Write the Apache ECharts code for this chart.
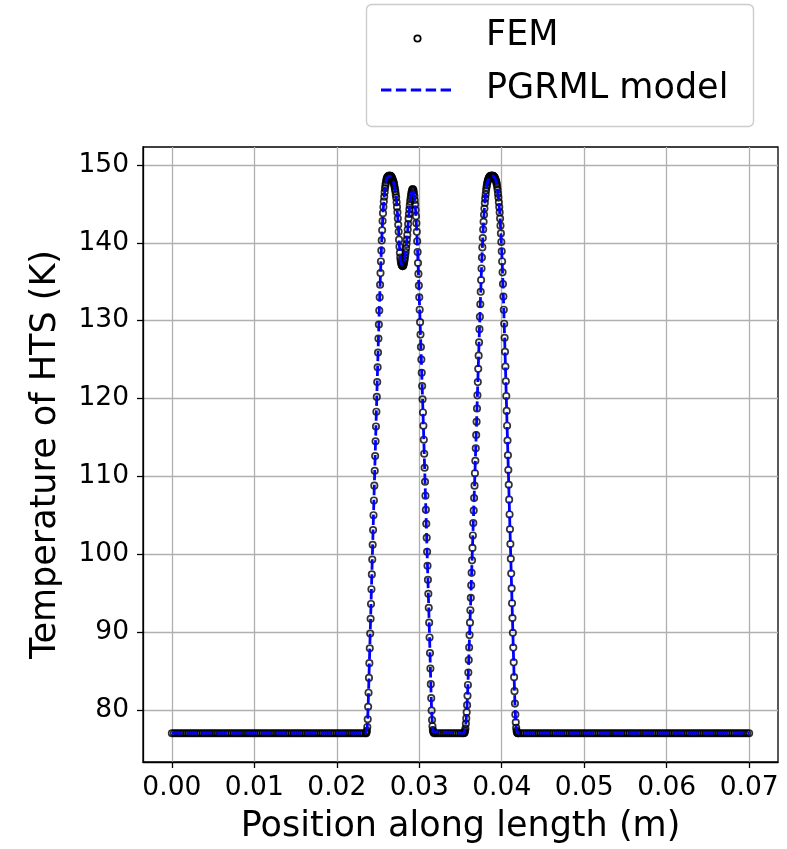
<!DOCTYPE html>
<html><head><meta charset="utf-8">
<script src="https://cdn.jsdelivr.net/npm/echarts@6/dist/echarts.min.js"></script>
<style>html,body{margin:0;padding:0;background:#fff}#chart{width:787px;height:849px}</style>
</head><body><div id="chart"></div>
<script>
// ---- tick values ----
const xTicks = [0, 0.01, 0.02, 0.03, 0.04, 0.05, 0.06, 0.07];
const yTicks = [80, 90, 100, 110, 120, 130, 140, 150];

// ---- FEM results [position (m), temperature (K)] ----
const femLeftTail = [[0,77],[0.00025,77],[0.0005,77],[0.00075,77],[0.001,77],[0.00125,77],[0.0015,77],[0.00175,77],[0.002,77],[0.00225,77],[0.0025,77],[0.00275,77],[0.003,77],[0.00325,77],[0.0035,77],[0.00375,77],[0.004,77],[0.00425,77],[0.0045,77],[0.00475,77],[0.005,77],[0.00525,77],[0.0055,77],[0.00575,77],[0.006,77],[0.00625,77],[0.0065,77],[0.00675,77],[0.007,77],[0.00725,77],[0.0075,77],[0.00775,77],[0.008,77],[0.00825,77],[0.0085,77],[0.00875,77],[0.009,77],[0.00925,77],[0.0095,77],[0.00975,77],[0.01,77],[0.01025,77],[0.0105,77],[0.01075,77],[0.011,77],[0.01125,77],[0.0115,77],[0.01175,77],[0.012,77],[0.01225,77],[0.0125,77],[0.01275,77],[0.013,77],[0.01325,77],[0.0135,77],[0.01375,77],[0.014,77],[0.01425,77],[0.0145,77],[0.01475,77],[0.015,77],[0.01525,77],[0.0155,77],[0.01575,77],[0.016,77],[0.01625,77],[0.0165,77],[0.01675,77],[0.017,77],[0.01725,77],[0.0175,77],[0.01775,77],[0.018,77],[0.01825,77],[0.0185,77],[0.01875,77],[0.019,77],[0.01925,77],[0.0195,77],[0.01975,77],[0.02,77],[0.02025,77],[0.0205,77],[0.02075,77],[0.021,77],[0.02125,77],[0.0215,77],[0.02175,77],[0.022,77],[0.02225,77],[0.0225,77],[0.02275,77],[0.023,77],[0.02325,77]];

const femDoublePeak = [[0.0235,77.0],[0.02355,77.0],[0.0236,77.1],[0.02365,77.3],[0.0237,77.8],[0.02375,78.8],[0.0238,80.4],[0.02385,82.2],[0.0239,84.1],[0.02395,86.0],[0.024,87.9],[0.02405,89.8],[0.0241,91.7],[0.02415,93.6],[0.0242,95.5],[0.02425,97.4],[0.0243,99.3],[0.02435,101.2],[0.0244,103.1],[0.02445,105.0],[0.0245,106.9],[0.02455,108.8],[0.0246,110.7],[0.02465,112.6],[0.0247,114.5],[0.02475,116.4],[0.0248,118.3],[0.02485,120.2],[0.0249,122.1],[0.02495,124.0],[0.025,125.9],[0.02505,127.7],[0.0251,129.5],[0.02515,131.3],[0.0252,133.0],[0.02525,134.6],[0.0253,136.1],[0.02535,137.6],[0.0254,139.0],[0.02545,140.3],[0.0255,141.6],[0.02555,142.8],[0.0256,143.8],[0.02565,144.6],[0.0257,145.3],[0.02575,145.9],[0.0258,146.5],[0.02585,147.0],[0.0259,147.4],[0.02595,147.7],[0.026,148.0],[0.02605,148.2],[0.0261,148.35],[0.02615,148.45],[0.0262,148.5],[0.02625,148.55],[0.0263,148.6],[0.02635,148.6],[0.0264,148.6],[0.02645,148.6],[0.0265,148.6],[0.02655,148.55],[0.0266,148.5],[0.02665,148.4],[0.0267,148.3],[0.02675,148.15],[0.0268,148.0],[0.02685,147.9],[0.0269,147.7],[0.02695,147.5],[0.027,147.2],[0.02705,146.9],[0.0271,146.6],[0.02715,146.2],[0.0272,145.8],[0.02725,145.2],[0.0273,144.6],[0.02735,143.9],[0.0274,143.1],[0.02745,142.3],[0.0275,141.4],[0.02755,140.4],[0.0276,139.5],[0.02765,138.7],[0.0277,138.1],[0.02775,137.7],[0.0278,137.4],[0.02785,137.2],[0.0279,137.1],[0.02795,137.0],[0.028,137.0],[0.02805,137.05],[0.0281,137.2],[0.02815,137.4],[0.0282,137.7],[0.02825,138.0],[0.0283,138.4],[0.02835,138.8],[0.0284,139.3],[0.02845,139.8],[0.0285,140.4],[0.02855,141.0],[0.0286,141.7],[0.02865,142.4],[0.0287,143.1],[0.02875,143.7],[0.0288,144.3],[0.02885,144.8],[0.0289,145.3],[0.02895,145.7],[0.029,146.1],[0.02905,146.4],[0.0291,146.6],[0.02915,146.8],[0.0292,146.9],[0.02925,146.85],[0.0293,146.7],[0.02935,146.4],[0.0294,146.0],[0.02945,145.5],[0.0295,144.9],[0.02955,144.2],[0.0296,143.4],[0.02965,142.5],[0.0297,141.4],[0.02975,140.2],[0.0298,138.8],[0.02985,137.4],[0.0299,136.0],[0.02995,134.5],[0.03,133.0],[0.03005,131.4],[0.0301,129.8],[0.03015,128.2],[0.0302,126.6],[0.03025,125.0],[0.0303,123.3],[0.03035,121.6],[0.0304,119.9],[0.03045,118.2],[0.0305,116.5],[0.03055,114.7],[0.0306,112.9],[0.03065,111.1],[0.0307,109.3],[0.03075,107.5],[0.0308,105.7],[0.03085,103.9],[0.0309,102.1],[0.03095,100.3],[0.031,98.5],[0.03105,96.7],[0.0311,94.9],[0.03115,93.1],[0.0312,91.2],[0.03125,89.3],[0.0313,87.3],[0.03135,85.3],[0.0314,83.3],[0.03145,81.5],[0.0315,79.9],[0.03155,78.7],[0.0316,77.9],[0.03165,77.4],[0.0317,77.2],[0.03175,77.1],[0.0318,77.0]];

const femGap = [[0.032,77],[0.03225,77],[0.0325,77],[0.03275,77],[0.033,77],[0.03325,77],[0.0335,77],[0.03375,77],[0.034,77],[0.03425,77],[0.0345,77],[0.03475,77],[0.035,77],[0.03525,77]];

const femSinglePeak = [[0.0354,77.0],[0.03545,77.05],[0.0355,77.1],[0.03555,77.3],[0.0356,77.6],[0.03565,78.2],[0.0357,78.9],[0.03575,79.7],[0.0358,80.6],[0.03585,81.8],[0.0359,83.2],[0.03595,84.8],[0.036,86.4],[0.03605,88.0],[0.0361,89.6],[0.03615,91.2],[0.0362,92.8],[0.03625,94.4],[0.0363,96.0],[0.03635,97.6],[0.0364,99.2],[0.03645,100.8],[0.0365,102.4],[0.03655,104.0],[0.0366,105.6],[0.03665,107.2],[0.0367,108.8],[0.03675,110.4],[0.0368,112.0],[0.03685,113.6],[0.0369,115.3],[0.03695,117.0],[0.037,118.7],[0.03705,120.4],[0.0371,122.1],[0.03715,123.8],[0.0372,125.5],[0.03725,127.2],[0.0373,128.9],[0.03735,130.5],[0.0374,132.1],[0.03745,133.7],[0.0375,135.2],[0.03755,136.7],[0.0376,138.1],[0.03765,139.4],[0.0377,140.6],[0.03775,141.7],[0.0378,142.7],[0.03785,143.6],[0.0379,144.4],[0.03795,145.1],[0.038,145.7],[0.03805,146.2],[0.0381,146.7],[0.03815,147.1],[0.0382,147.4],[0.03825,147.7],[0.0383,147.9],[0.03835,148.1],[0.0384,148.2],[0.03845,148.35],[0.0385,148.45],[0.03855,148.5],[0.0386,148.55],[0.03865,148.6],[0.0387,148.6],[0.03875,148.6],[0.0388,148.6],[0.03885,148.6],[0.0389,148.6],[0.03895,148.6],[0.039,148.55],[0.03905,148.5],[0.0391,148.45],[0.03915,148.35],[0.0392,148.25],[0.03925,148.1],[0.0393,147.95],[0.03935,147.75],[0.0394,147.5],[0.03945,147.2],[0.0395,146.8],[0.03955,146.3],[0.0396,145.8],[0.03965,145.2],[0.0397,144.6],[0.03975,143.9],[0.0398,143.1],[0.03985,142.2],[0.0399,141.2],[0.03995,140.1],[0.04,138.9],[0.04005,137.6],[0.0401,136.2],[0.04015,134.7],[0.0402,133.1],[0.04025,131.4],[0.0403,129.6],[0.04035,127.8],[0.0404,126.0],[0.04045,124.1],[0.0405,122.2],[0.04055,120.3],[0.0406,118.4],[0.04065,116.5],[0.0407,114.6],[0.04075,112.7],[0.0408,110.8],[0.04085,108.9],[0.0409,107.0],[0.04095,105.1],[0.041,103.2],[0.04105,101.3],[0.0411,99.4],[0.04115,97.5],[0.0412,95.6],[0.04125,93.7],[0.0413,91.8],[0.04135,89.9],[0.0414,88.0],[0.04145,86.1],[0.0415,84.2],[0.04155,82.4],[0.0416,80.8],[0.04165,79.4],[0.0417,78.4],[0.04175,77.7],[0.0418,77.3],[0.04185,77.1],[0.0419,77.05],[0.04195,77.0]];

const femRightTail = [[0.042,77],[0.04225,77],[0.0425,77],[0.04275,77],[0.043,77],[0.04325,77],[0.0435,77],[0.04375,77],[0.044,77],[0.04425,77],[0.0445,77],[0.04475,77],[0.045,77],[0.04525,77],[0.0455,77],[0.04575,77],[0.046,77],[0.04625,77],[0.0465,77],[0.04675,77],[0.047,77],[0.04725,77],[0.0475,77],[0.04775,77],[0.048,77],[0.04825,77],[0.0485,77],[0.04875,77],[0.049,77],[0.04925,77],[0.0495,77],[0.04975,77],[0.05,77],[0.05025,77],[0.0505,77],[0.05075,77],[0.051,77],[0.05125,77],[0.0515,77],[0.05175,77],[0.052,77],[0.05225,77],[0.0525,77],[0.05275,77],[0.053,77],[0.05325,77],[0.0535,77],[0.05375,77],[0.054,77],[0.05425,77],[0.0545,77],[0.05475,77],[0.055,77],[0.05525,77],[0.0555,77],[0.05575,77],[0.056,77],[0.05625,77],[0.0565,77],[0.05675,77],[0.057,77],[0.05725,77],[0.0575,77],[0.05775,77],[0.058,77],[0.05825,77],[0.0585,77],[0.05875,77],[0.059,77],[0.05925,77],[0.0595,77],[0.05975,77],[0.06,77],[0.06025,77],[0.0605,77],[0.06075,77],[0.061,77],[0.06125,77],[0.0615,77],[0.06175,77],[0.062,77],[0.06225,77],[0.0625,77],[0.06275,77],[0.063,77],[0.06325,77],[0.0635,77],[0.06375,77],[0.064,77],[0.06425,77],[0.0645,77],[0.06475,77],[0.065,77],[0.06525,77],[0.0655,77],[0.06575,77],[0.066,77],[0.06625,77],[0.0665,77],[0.06675,77],[0.067,77],[0.06725,77],[0.0675,77],[0.06775,77],[0.068,77],[0.06825,77],[0.0685,77],[0.06875,77],[0.069,77],[0.06925,77],[0.0695,77],[0.06975,77],[0.07,77]];

// ---- PGRML model prediction [position (m), temperature (K)] ----
const pgrmlModel = [[0,77],[0.0235,77],[0.0236,77.1],[0.0237,77.8],[0.0238,80.4],[0.0239,84.1],[0.024,87.9],[0.0241,91.7],[0.0242,95.5],[0.0243,99.3],[0.0244,103.1],[0.0245,106.9],[0.0246,110.7],[0.0247,114.5],[0.0248,118.3],[0.0249,122.1],[0.025,125.9],[0.0251,129.5],[0.0252,133.0],[0.0253,136.1],[0.0254,139.0],[0.0255,141.6],[0.0256,143.8],[0.0257,145.3],[0.0258,146.5],[0.0259,147.4],[0.026,148.0],[0.0261,148.35],[0.0262,148.5],[0.0263,148.6],[0.0264,148.6],[0.0265,148.6],[0.0266,148.5],[0.0267,148.3],[0.0268,148.0],[0.0269,147.7],[0.027,147.2],[0.0271,146.6],[0.0272,145.8],[0.0273,144.6],[0.0274,143.1],[0.0275,141.4],[0.0276,139.5],[0.0277,138.1],[0.0278,137.4],[0.0279,137.1],[0.028,137.0],[0.0281,137.2],[0.0282,137.7],[0.0283,138.4],[0.0284,139.3],[0.0285,140.4],[0.0286,141.7],[0.0287,143.1],[0.0288,144.3],[0.0289,145.3],[0.029,146.1],[0.0291,146.6],[0.0292,146.9],[0.0293,146.7],[0.0294,146.0],[0.0295,144.9],[0.0296,143.4],[0.0297,141.4],[0.0298,138.8],[0.0299,136.0],[0.03,133.0],[0.0301,129.8],[0.0302,126.6],[0.0303,123.3],[0.0304,119.9],[0.0305,116.5],[0.0306,112.9],[0.0307,109.3],[0.0308,105.7],[0.0309,102.1],[0.031,98.5],[0.0311,94.9],[0.0312,91.2],[0.0313,87.3],[0.0314,83.3],[0.0315,79.9],[0.0316,77.9],[0.0317,77.2],[0.0318,77.0],[0.0354,77.0],[0.0355,77.1],[0.0356,77.6],[0.0357,78.9],[0.0358,80.6],[0.0359,83.2],[0.036,86.4],[0.0361,89.6],[0.0362,92.8],[0.0363,96.0],[0.0364,99.2],[0.0365,102.4],[0.0366,105.6],[0.0367,108.8],[0.0368,112.0],[0.0369,115.3],[0.037,118.7],[0.0371,122.1],[0.0372,125.5],[0.0373,128.9],[0.0374,132.1],[0.0375,135.2],[0.0376,138.1],[0.0377,140.6],[0.0378,142.7],[0.0379,144.4],[0.038,145.7],[0.0381,146.7],[0.0382,147.4],[0.0383,147.9],[0.0384,148.2],[0.0385,148.45],[0.0386,148.55],[0.0387,148.6],[0.0388,148.6],[0.0389,148.6],[0.039,148.55],[0.0391,148.45],[0.0392,148.25],[0.0393,147.95],[0.0394,147.5],[0.0395,146.8],[0.0396,145.8],[0.0397,144.6],[0.0398,143.1],[0.0399,141.2],[0.04,138.9],[0.0401,136.2],[0.0402,133.1],[0.0403,129.6],[0.0404,126.0],[0.0405,122.2],[0.0406,118.4],[0.0407,114.6],[0.0408,110.8],[0.0409,107.0],[0.041,103.2],[0.0411,99.4],[0.0412,95.6],[0.0413,91.8],[0.0414,88.0],[0.0415,84.2],[0.0416,80.8],[0.0417,78.4],[0.0418,77.3],[0.0419,77.05],[0.042,77],[0.07,77]];

const femData = femLeftTail.concat(femDoublePeak, femGap, femSinglePeak, femRightTail);

const FONT = 'DejaVu Sans';
const chart = echarts.init(document.getElementById('chart'), null, {renderer: 'canvas'});
const axisCommon = {
  axisLine: {show: true, onZero: false, lineStyle: {color: '#000', width: 1.3}},
  splitLine: {show: true, lineStyle: {color: '#b0b0b0', width: 1.3}}
};
chart.setOption({
  animation: false,
  backgroundColor: '#fff',
  grid: {left: 143, top: 147, width: 635, height: 616, show: true, borderColor: '#000', borderWidth: 1.3, backgroundColor: 'rgba(0,0,0,0)'},
  xAxis: Object.assign({
    type: 'value', min: -0.0035, max: 0.0735,
    name: 'Position along length (m)', nameLocation: 'middle', nameGap: 47,
    nameTextStyle: {fontFamily: FONT, fontSize: 35, color: '#000'},
    axisTick: {show: true, inside: false, length: 6, lineStyle: {color: '#000', width: 1.3}, customValues: xTicks},
    axisLabel: {show: true, customValues: xTicks, formatter: v => Number(v).toFixed(2), fontFamily: FONT, fontSize: 26.5, color: '#000', margin: 13}
  }, axisCommon),
  yAxis: Object.assign({
    type: 'value', min: 73.3, max: 152.3,
    name: 'Temperature of HTS (K)', nameLocation: 'middle', nameGap: 80, nameRotate: 90,
    nameTextStyle: {fontFamily: FONT, fontSize: 35, color: '#000'},
    axisTick: {show: true, inside: false, length: 6, lineStyle: {color: '#000', width: 1.3}, customValues: yTicks},
    axisLabel: {show: true, customValues: yTicks, formatter: v => String(Math.round(v)), fontFamily: FONT, fontSize: 26.5, color: '#000', margin: 14}
  }, axisCommon),
  graphic: [
    {type: 'rect', shape: {x: 366.5, y: 4.5, width: 387, height: 122, r: 5}, style: {fill: 'rgba(255,255,255,0.8)', stroke: '#cccccc', lineWidth: 1.4}, z: 10},
    {type: 'circle', shape: {cx: 417.5, cy: 38.5, r: 3.2}, style: {fill: 'none', stroke: '#000', lineWidth: 1.7}, z: 11},
    {type: 'line', shape: {x1: 381, y1: 90, x2: 455, y2: 90}, style: {stroke: '#0000ff', lineWidth: 2.8, lineDash: [10.4, 4.5]}, z: 11},
    {type: 'text', x: 486, y: 36, style: {text: 'FEM', fontFamily: FONT, fontSize: 35, fill: '#000', verticalAlign: 'middle'}, z: 11},
    {type: 'text', x: 486, y: 89, style: {text: 'PGRML model', fontFamily: FONT, fontSize: 35, fill: '#000', verticalAlign: 'middle'}, z: 11}
  ],
  series: [
    {type: 'scatter', name: 'FEM', data: femData, symbol: 'circle', symbolSize: 6.4,
     itemStyle: {color: 'rgba(0,0,0,0)', borderColor: '#000', borderWidth: 1.7}, z: 2, silent: true},
    {type: 'line', name: 'PGRML model', data: pgrmlModel, showSymbol: false, symbol: 'none',
     lineStyle: {color: '#0000ff', width: 2.8, type: [10.4, 4.5]}, z: 3, silent: true}
  ]
});
</script>
</body></html>
